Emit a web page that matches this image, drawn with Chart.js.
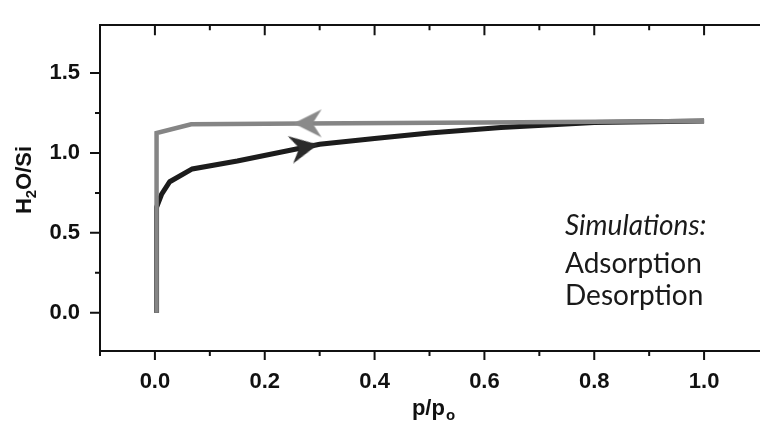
<!DOCTYPE html>
<html>
<head>
<meta charset="utf-8">
<script src="https://cdn.jsdelivr.net/npm/chart.js@4/dist/chart.umd.min.js"></script>
<style>
  html, body { margin: 0; padding: 0; background: #fff; overflow: hidden; }
  canvas { display: block; }
</style>
</head>
<body>
<canvas id="isotherm" width="772" height="426"></canvas>
<script>
const canvas = document.getElementById('isotherm');
const ctx = canvas.getContext('2d');

//// data
// adsorption branch (dark)
let adsX = [0.003, 0.003, 0.012, 0.027, 0.068, 0.15, 0.30, 0.40, 0.50, 0.63, 0.80, 1.00];
let adsY = [0.00, 0.66, 0.74, 0.82, 0.90, 0.95, 1.055, 1.09, 1.125, 1.16, 1.19, 1.20];
// desorption branch (grey)
let desX = [1.00, 0.60, 0.27, 0.066, 0.003, 0.003];
let desY = [1.20, 1.19, 1.185, 1.18, 1.125, 0.00];
// direction arrows
let adsArrow = [0.27, 1.035];
let desArrow = [0.28, 1.185];

// axes
let xMajor = [0.0, 0.2, 0.4, 0.6, 0.8, 1.0];
let xMinor = [-0.1, 0.1, 0.3, 0.5, 0.7, 0.9];
let yMajor = [0.0, 0.5, 1.0, 1.5];
let yMinor = [0.25, 0.75, 1.25];

let noteLines = ['Simulations:', 'Adsorption', 'Desorption'];

// barbed arrow head used as point style (points right, rotated per dataset)
function arrowHead(color) {
  const c = document.createElement('canvas');
  c.width = 34; c.height = 34;
  const g = c.getContext('2d');
  g.fillStyle = color;
  g.beginPath();
  g.moveTo(32, 17);
  g.lineTo(4, 3);
  g.lineTo(13, 17);
  g.lineTo(4, 31);
  g.closePath();
  g.fill();
  return c;
}

const pts = (xs, ys) => xs.map((x, i) => ({ x: x, y: ys[i] }));

// ticks, axis titles and the note
const decor = {
  id: 'decor',
  afterDraw(chart) {
    const c = chart.ctx;
    const xs = chart.scales.x, ys = chart.scales.y;
    const a = chart.chartArea;
    c.save();
    c.strokeStyle = '#111';
    c.lineWidth = 2;
    c.beginPath();
    xMajor.forEach(v => {
      const p = xs.getPixelForValue(v);
      c.moveTo(p, a.bottom); c.lineTo(p, a.bottom + 9);
      c.moveTo(p, a.top); c.lineTo(p, a.top + 10);
    });
    xMinor.forEach(v => {
      const p = xs.getPixelForValue(v);
      c.moveTo(p, a.bottom); c.lineTo(p, a.bottom + 5);
      c.moveTo(p, a.top); c.lineTo(p, a.top + 5);
    });
    yMajor.forEach(v => {
      const p = ys.getPixelForValue(v);
      c.moveTo(a.left - 10, p); c.lineTo(a.left, p);
    });
    yMinor.forEach(v => {
      const p = ys.getPixelForValue(v);
      c.moveTo(a.left - 5, p); c.lineTo(a.left, p);
    });
    c.stroke();

    // axis titles with real subscripts
    c.fillStyle = '#111';
    c.textBaseline = 'alphabetic';
    const big = 'bold 22px "Liberation Sans", Arial, sans-serif';
    const small = 'bold 15px "Liberation Sans", Arial, sans-serif';
    // x: p/p_o
    c.font = big;
    const w1 = c.measureText('p/p').width;
    c.font = small;
    const w2 = c.measureText('o').width;
    let x0 = (a.left + 766) / 2 - (w1 + w2) / 2;
    c.font = big;
    c.textAlign = 'left';
    c.fillText('p/p', x0, 415);
    c.font = small;
    c.fillText('o', x0 + w1 + 1, 420);
    // y: H2O/Si rotated
    c.save();
    c.translate(31, 180);
    c.rotate(-Math.PI / 2);
    c.font = big;
    const h1 = c.measureText('H').width;
    const h3 = c.measureText('O/Si').width;
    c.font = small;
    const h2 = c.measureText('2').width;
    let y0 = -(h1 + h2 + h3) / 2;
    c.font = big;
    c.fillText('H', y0, 0);
    c.font = small;
    c.fillText('2', y0 + h1, 5);
    c.font = big;
    c.fillText('O/Si', y0 + h1 + h2, 0);
    c.restore();

    // note
    c.fillStyle = '#1a1a1a';
    c.font = 'italic 28px Lato, "Open Sans", sans-serif';
    c.fillText(noteLines[0], 565, 235);
    c.font = '28px Lato, "Open Sans", sans-serif';
    c.fillText(noteLines[1], 565, 273);
    c.fillText(noteLines[2], 565, 305);
    c.restore();
  }
};

const data = {
  datasets: [
    {
      label: 'Adsorption',
      data: pts(adsX, adsY),
      showLine: true,
      borderColor: '#1c1c1c',
      borderWidth: 5,
      pointRadius: 0,
      tension: 0,
      order: 2
    },
    {
      label: 'Desorption',
      data: pts(desX, desY),
      showLine: true,
      borderColor: '#858585',
      borderWidth: 4.5,
      pointRadius: 0,
      tension: 0,
      order: 1
    },
    {
      label: 'ads arrow',
      data: [{ x: adsArrow[0], y: adsArrow[1] }],
      showLine: false,
      pointStyle: arrowHead('#2a2a2a'),
      pointRotation: -11,
      pointRadius: 12,
      order: 0
    },
    {
      label: 'des arrow',
      data: [{ x: desArrow[0], y: desArrow[1] }],
      showLine: false,
      pointStyle: arrowHead('#8a8a8a'),
      pointRotation: 180,
      pointRadius: 12,
      order: 0
    }
  ]
};

const labelFont = { family: '"Liberation Sans", Arial, sans-serif', size: 22, weight: 'bold' };

const options = {
  responsive: false,
  animation: false,
  layout: { padding: { left: 0, right: 4, top: 0, bottom: 0 } },
  plugins: {
    legend: { display: false },
    tooltip: { enabled: false }
  },
  scales: {
    x: {
      type: 'linear',
      position: 'bottom',
      min: -0.1,
      max: 1.1,
      afterBuildTicks: s => { s.ticks = xMajor.map(v => ({ value: v })); },
      afterFit: s => { s.height = 75; },
      grid: { drawOnChartArea: false, tickLength: 8, tickColor: 'transparent' },
      border: { display: true, color: '#111', width: 2 },
      ticks: { color: '#111', font: labelFont, padding: 10, maxRotation: 0,
               callback: v => v.toFixed(1) }
    },
    x2: {
      type: 'linear',
      position: 'top',
      min: -0.1,
      max: 1.1,
      afterFit: s => { s.height = 12; },
      grid: { drawOnChartArea: false, drawTicks: false },
      border: { display: true, color: '#111', width: 2 },
      ticks: { display: false }
    },
    y: {
      type: 'linear',
      min: -0.24,
      max: 1.8,
      afterBuildTicks: s => { s.ticks = yMajor.map(v => ({ value: v })); },
      afterFit: s => { s.width = 100; },
      grid: { drawOnChartArea: false, tickLength: 8, tickColor: 'transparent' },
      border: { display: true, color: '#111', width: 2 },
      ticks: { color: '#111', font: labelFont, padding: 12,
               callback: v => v.toFixed(1) }
    }
  }
};

new Chart(ctx, {
  type: 'scatter',
  data,
  options,
  plugins: [decor]
});
</script>
</body>
</html>
